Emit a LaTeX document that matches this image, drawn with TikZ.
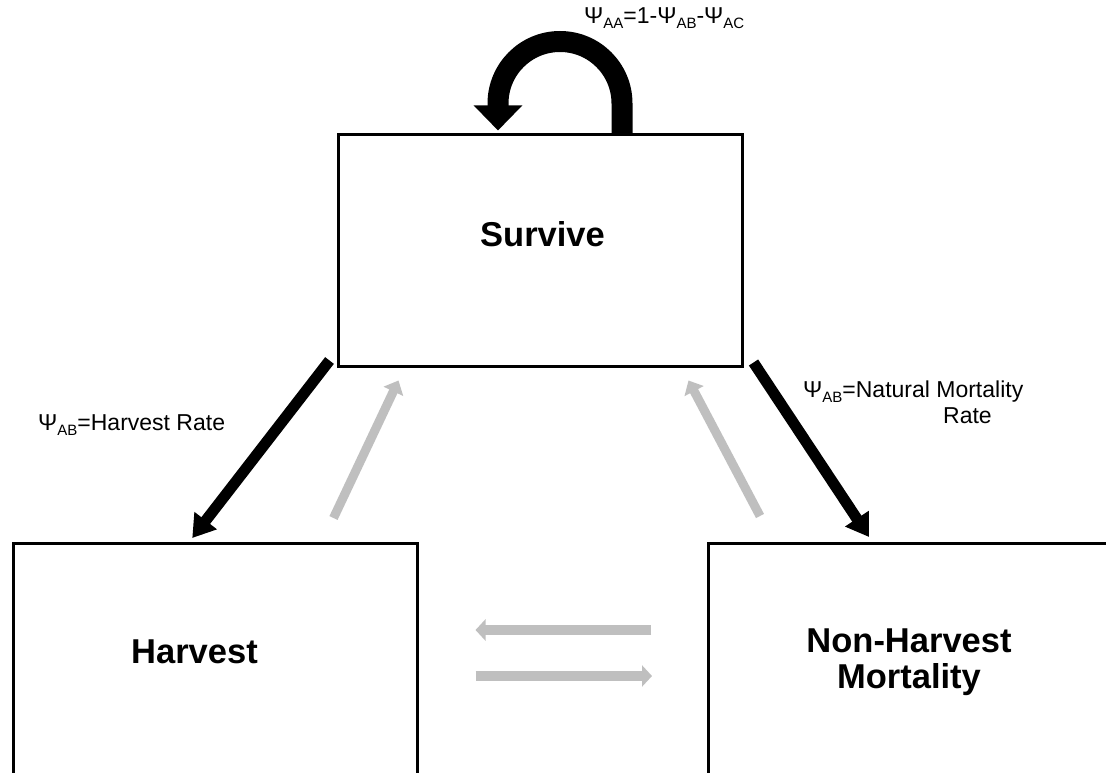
\documentclass[tikz,border=0pt]{standalone}
\usepackage{fontspec}
\setmainfont{Liberation Sans}
\usetikzlibrary{arrows.meta,calc}
\definecolor{flowgray}{RGB}{191,191,191}
\newcommand{\psub}[1]{\raisebox{-5pt}{\fontsize{15}{15}\selectfont #1}}
\tikzset{
  box/.style={draw=black,line width=3pt,rectangle,inner sep=0pt,fill=none},
  title/.style={font=\fontsize{34.5}{36}\selectfont\bfseries,inner sep=0pt,align=center},
  lab/.style={font=\fontsize{23}{26}\selectfont,inner sep=0pt},
  blackarrow/.style={draw=black,line width=11pt,-{Triangle[length=22pt,width=27pt]}},
  grayarrow/.style={draw=flowgray,line width=9pt,-{Triangle[length=12pt,width=21pt]}},
  grayflat/.style={draw=flowgray,line width=10pt,-{Triangle[length=10pt,width=21pt]}},
  loop/.style={draw=black,line width=21pt,-{Triangle[length=25pt,width=47pt]}}
}
\begin{document}
\begin{tikzpicture}[x=1pt,y=-1pt]
\useasboundingbox (0,0) rectangle (1106,773);
\clip (0,0) rectangle (1106,773);
\fill[white] (0,0) rectangle (1106,773);
% boxes
\node[box,minimum width=404pt,minimum height=231pt] (surv) at (540,250.5) {};
\node[box,minimum width=403.5pt,minimum height=356.5pt] (harv) at (215.25,721.75) {};
\node[box,minimum width=491.5pt,minimum height=356.5pt] (nonh) at (954.25,721.75) {};
% titles
\node[title,anchor=base] (tsurv) at (542.5,246) {Survive};
\node[title,anchor=base] (tharv) at (194.5,663) {Harvest};
\node[title,anchor=center] (tnonh) at (909,662) {Non-Harvest\\Mortality};
% self loop
\draw[loop] ($(surv.north)+(82,0)$) -- ($(surv.north)+(82,-30)$) arc (0:-180:62) -- ($(surv.north)+(-42,-3)$);
% black arrows
\draw[blackarrow] ($(surv.south west)+(-7,-7)$) -- ($(harv.north)+(-23,-4)$);
\draw[blackarrow] ($(surv.south east)+(10,-5)$) -- ($(nonh.north west)+(162,-5)$);
% gray arrows
\draw[grayarrow] ($(harv.north east)+(-85,-24)$) -- ($(surv.south west)+(62,13)$);
\draw[grayarrow] ($(nonh.north west)+(53,-26)$) -- ($(surv.south east)+(-55,13)$);
\draw[grayflat] ($(nonh.west)+(-56,-91.75)$) -- ($(harv.east)+(57,-91.75)$);
\draw[grayflat] ($(harv.east)+(57,-45.75)$) -- ($(nonh.west)+(-55,-45.75)$);
% labels
\node[lab,anchor=base west] (ltop) at (584,24) {Ψ\psub{AA}=1-Ψ\psub{AB}-Ψ\psub{AC}};
\node[lab,anchor=base west] (lleft) at (38,430) {Ψ\psub{AB}=Harvest Rate};
\node[lab,anchor=base west] (lright) at (803,397) {Ψ\psub{AB}=Natural Mortality};
\node[lab,anchor=base west] (lright2) at (943,423) {Rate};
\end{tikzpicture}
\end{document}
